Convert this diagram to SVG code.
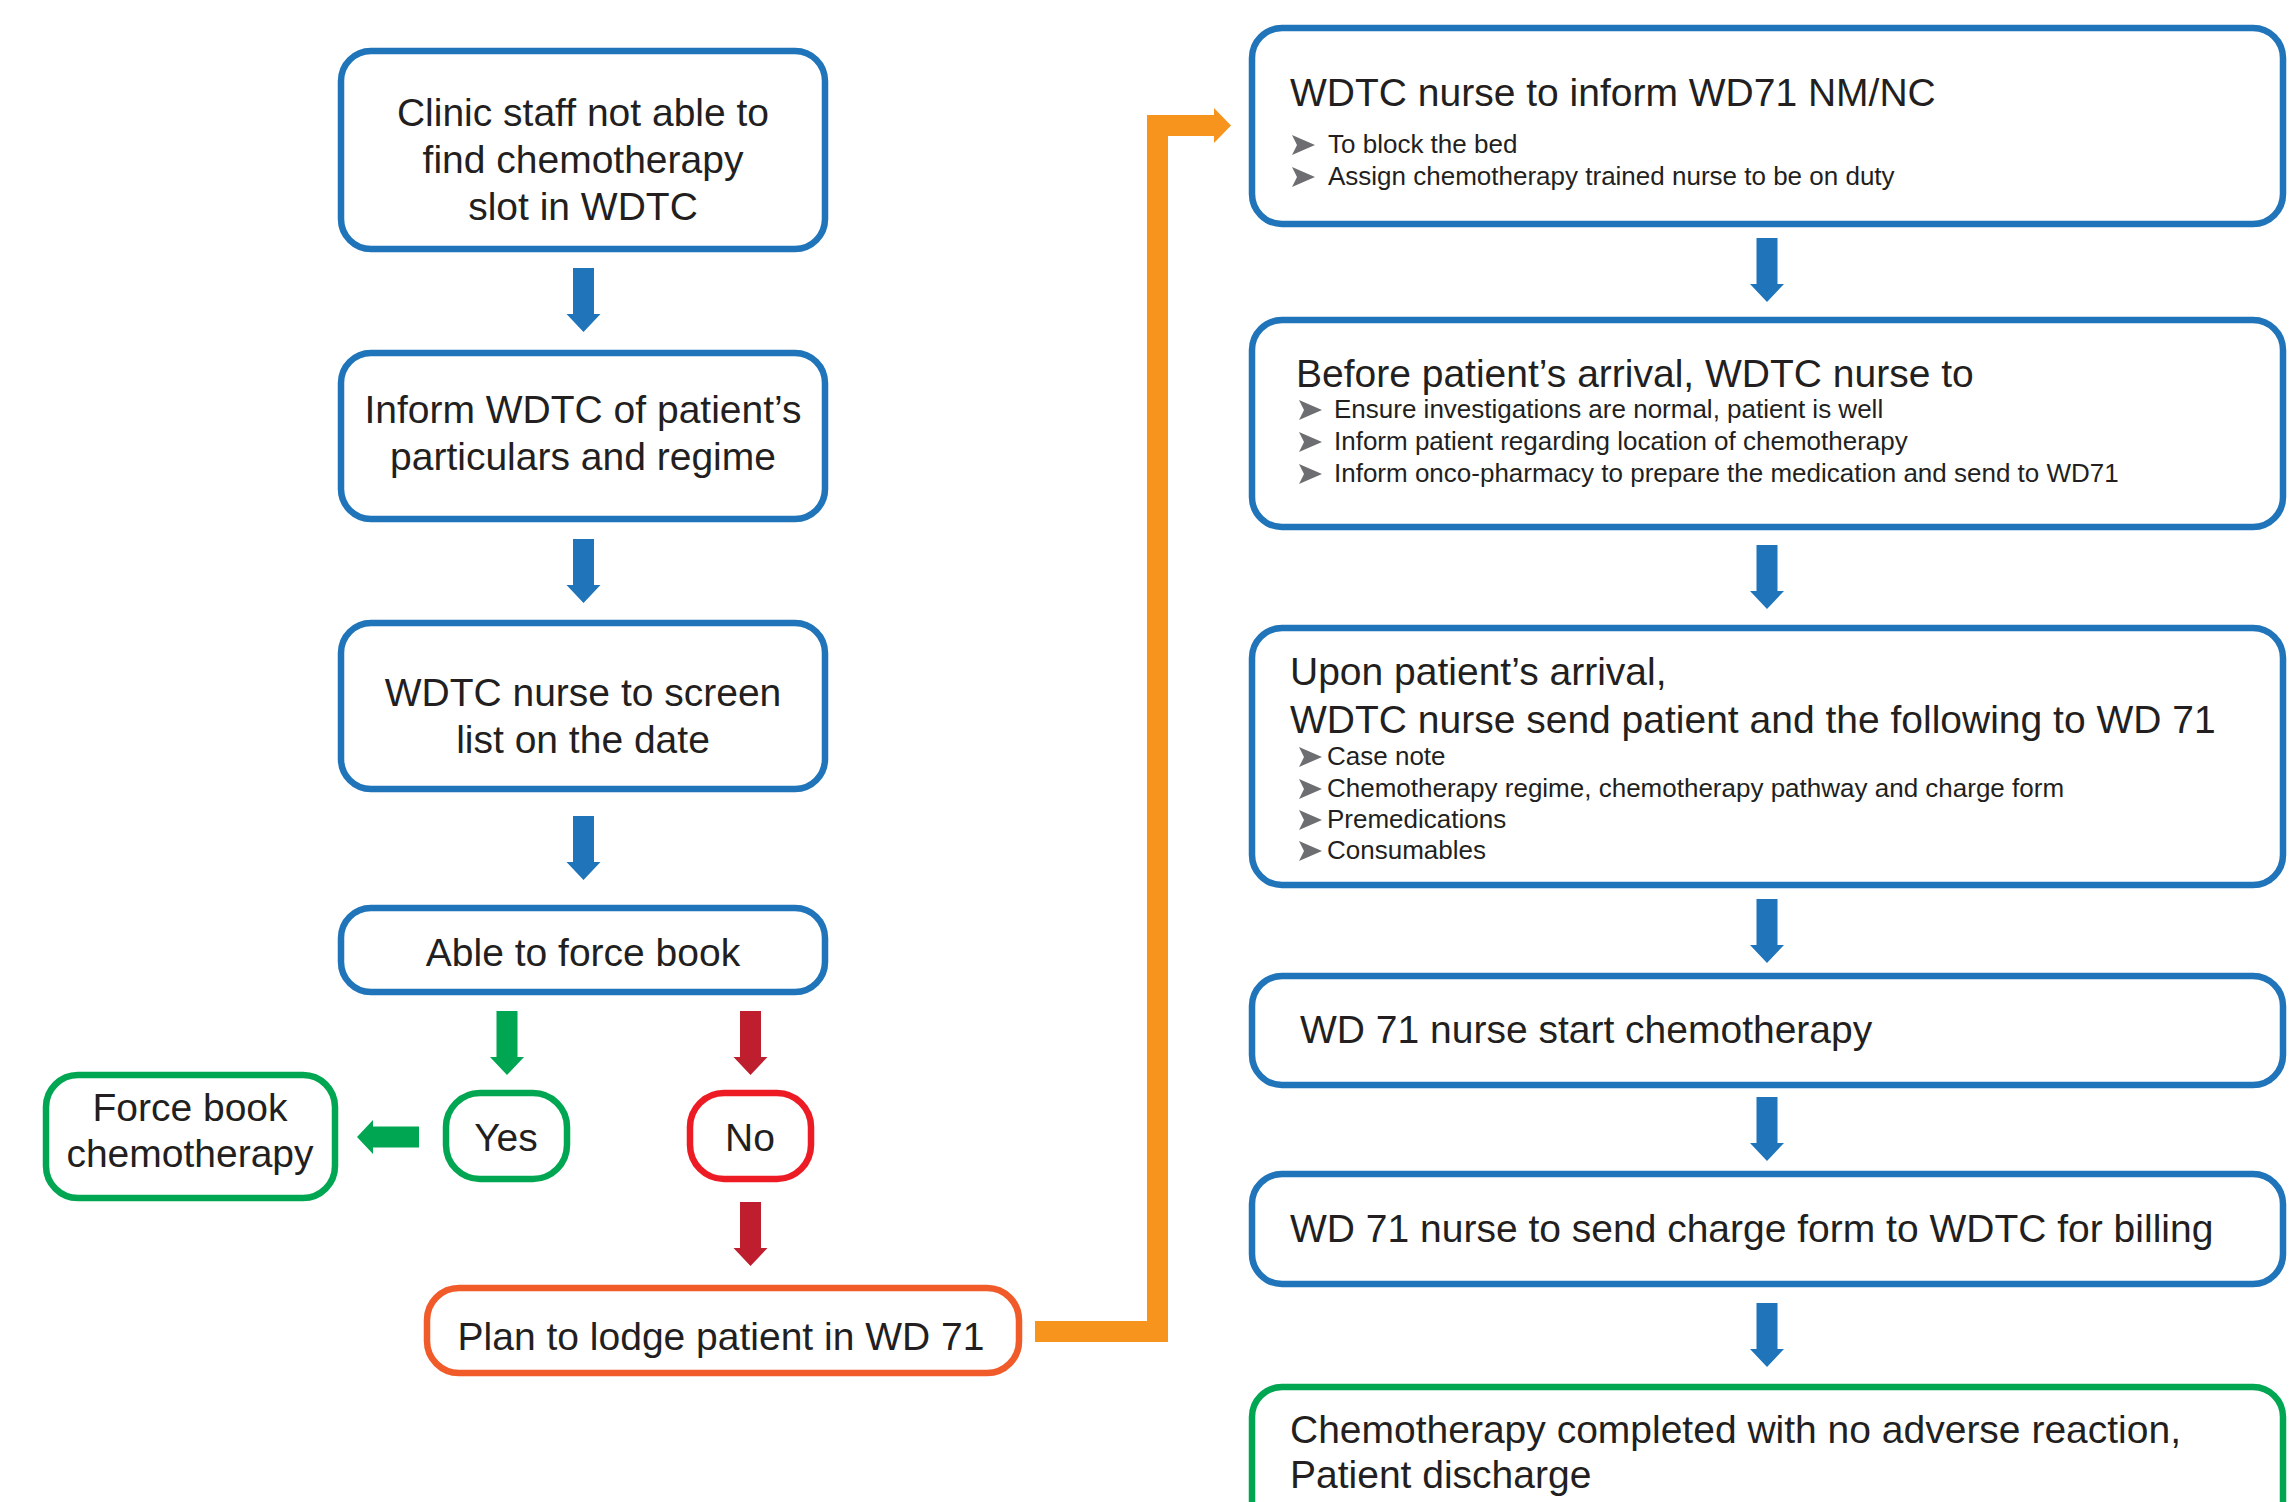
<svg xmlns="http://www.w3.org/2000/svg" xmlns:xlink="http://www.w3.org/1999/xlink" width="2290" height="1502" viewBox="0 0 2290 1502">
<style>
  .box { fill: #ffffff; stroke-width: 6.5; }
  .blue { stroke: #1f74ba; }
  .green { stroke: #00a651; }
  .red { stroke: #ed1c24; }
  .orange { stroke: #f15a29; }
  .t { font-family: "Liberation Sans", Arial, Helvetica, sans-serif; font-size: 39px; fill: #231f20; }
  .c { text-anchor: middle; }
  .s { font-family: "Liberation Sans", Arial, Helvetica, sans-serif; font-size: 26px; fill: #231f20; }
  .ab { fill: #1f74ba; }
  .ag { fill: #00a651; }
  .ar { fill: #be1e2d; }
  .ao { fill: #f7941d; }
  .bul { fill: #6d6e71; }
</style>
<defs>
  <path id="down" d="M-10.5,0 H10.5 V46 H17 L0,64 L-17,46 H-10.5 Z"/>
  <path id="bullet" d="M0,-10 L23,0 L0,10 L5,0 Z"/>
</defs>

<g id="connectors">
  <use xlink:href="#down" href="#down" class="ab" x="583.5" y="268"/>
  <use xlink:href="#down" href="#down" class="ab" x="583.5" y="539"/>
  <use xlink:href="#down" href="#down" class="ab" x="583.5" y="816"/>
  <use xlink:href="#down" href="#down" class="ag" x="507" y="1011"/>
  <use xlink:href="#down" href="#down" class="ar" x="750.5" y="1011"/>
  <use xlink:href="#down" href="#down" class="ar" x="750.5" y="1202"/>
  <polygon class="ag" points="419,1126.5 373,1126.5 373,1120 357,1137 373,1154 373,1147.5 419,1147.5"/>
  <polygon class="ao" points="1035,1342 1168,1342 1168,136 1214,136 1214,143 1231,125.5 1214,108 1214,115 1147,115 1147,1321 1035,1321"/>
  <use xlink:href="#down" href="#down" class="ab" x="1767" y="238"/>
  <use xlink:href="#down" href="#down" class="ab" x="1767" y="545"/>
  <use xlink:href="#down" href="#down" class="ab" x="1767" y="899"/>
  <use xlink:href="#down" href="#down" class="ab" x="1767" y="1097"/>
  <use xlink:href="#down" href="#down" class="ab" x="1767" y="1303"/>
</g>

<g id="n1">
  <rect class="box blue" x="341" y="51" width="484" height="198" rx="30"/>
  <text class="t c" x="583" y="126">Clinic staff not able to</text>
  <text class="t c" x="583" y="173">find chemotherapy</text>
  <text class="t c" x="583" y="220">slot in WDTC</text>
</g>
<g id="n2">
  <rect class="box blue" x="341" y="353" width="484" height="166" rx="30"/>
  <text class="t c" x="583" y="423">Inform WDTC of patient’s</text>
  <text class="t c" x="583" y="470">particulars and regime</text>
</g>
<g id="n3">
  <rect class="box blue" x="341" y="623" width="484" height="166" rx="30"/>
  <text class="t c" x="583" y="706">WDTC nurse to screen</text>
  <text class="t c" x="583" y="753">list on the date</text>
</g>
<g id="n4">
  <rect class="box blue" x="341" y="908" width="484" height="84" rx="30"/>
  <text class="t c" x="583" y="966">Able to force book</text>
</g>
<g id="n-yes">
  <rect class="box green" x="446" y="1093" width="121" height="86" rx="34"/>
  <text class="t c" x="506" y="1151">Yes</text>
</g>
<g id="n-no">
  <rect class="box red" x="690" y="1093" width="121" height="86" rx="34"/>
  <text class="t c" x="750" y="1151">No</text>
</g>
<g id="n-force">
  <rect class="box green" x="46" y="1075" width="289" height="123" rx="32"/>
  <text class="t c" x="190" y="1121">Force book</text>
  <text class="t c" x="190" y="1167">chemotherapy</text>
</g>
<g id="n-plan">
  <rect class="box orange" x="427" y="1288" width="592" height="85" rx="32"/>
  <text class="t c" x="721" y="1350">Plan to lodge patient in WD 71</text>
</g>

<g id="r1">
  <rect class="box blue" x="1252" y="28" width="1031" height="196" rx="30"/>
  <text class="t" x="1290" y="106">WDTC nurse to inform WD71 NM/NC</text>
  <use xlink:href="#bullet" href="#bullet" class="bul" x="1292" y="145"/>
  <text class="s" x="1328" y="153">To block the bed</text>
  <use xlink:href="#bullet" href="#bullet" class="bul" x="1292" y="177"/>
  <text class="s" x="1328" y="185">Assign chemotherapy trained nurse to be on duty</text>
</g>
<g id="r2">
  <rect class="box blue" x="1252" y="320" width="1031" height="207" rx="30"/>
  <text class="t" x="1296" y="387">Before patient’s arrival, WDTC nurse to</text>
  <use xlink:href="#bullet" href="#bullet" class="bul" x="1299" y="410"/>
  <text class="s" x="1334" y="418">Ensure investigations are normal, patient is well</text>
  <use xlink:href="#bullet" href="#bullet" class="bul" x="1299" y="442"/>
  <text class="s" x="1334" y="450">Inform patient regarding location of chemotherapy</text>
  <use xlink:href="#bullet" href="#bullet" class="bul" x="1299" y="474"/>
  <text class="s" x="1334" y="482">Inform onco-pharmacy to prepare the medication and send to WD71</text>
</g>
<g id="r3">
  <rect class="box blue" x="1252" y="628" width="1031" height="257" rx="30"/>
  <text class="t" x="1290" y="685">Upon patient’s arrival,</text>
  <text class="t" x="1290" y="733">WDTC nurse send patient and the following to WD 71</text>
  <use xlink:href="#bullet" href="#bullet" class="bul" x="1299" y="757"/>
  <text class="s" x="1327" y="765">Case note</text>
  <use xlink:href="#bullet" href="#bullet" class="bul" x="1299" y="789"/>
  <text class="s" x="1327" y="797">Chemotherapy regime, chemotherapy pathway and charge form</text>
  <use xlink:href="#bullet" href="#bullet" class="bul" x="1299" y="820"/>
  <text class="s" x="1327" y="828">Premedications</text>
  <use xlink:href="#bullet" href="#bullet" class="bul" x="1299" y="851"/>
  <text class="s" x="1327" y="859">Consumables</text>
</g>
<g id="r4">
  <rect class="box blue" x="1252" y="976" width="1031" height="109" rx="30"/>
  <text class="t" x="1300" y="1043">WD 71 nurse start chemotherapy</text>
</g>
<g id="r5">
  <rect class="box blue" x="1252" y="1174" width="1031" height="110" rx="30"/>
  <text class="t" x="1290" y="1242">WD 71 nurse to send charge form to WDTC for billing</text>
</g>
<g id="r6">
  <rect class="box green" x="1252" y="1387" width="1031" height="160" rx="30"/>
  <text class="t" x="1290" y="1443">Chemotherapy completed with no adverse reaction,</text>
  <text class="t" x="1290" y="1488">Patient discharge</text>
</g>
</svg>
